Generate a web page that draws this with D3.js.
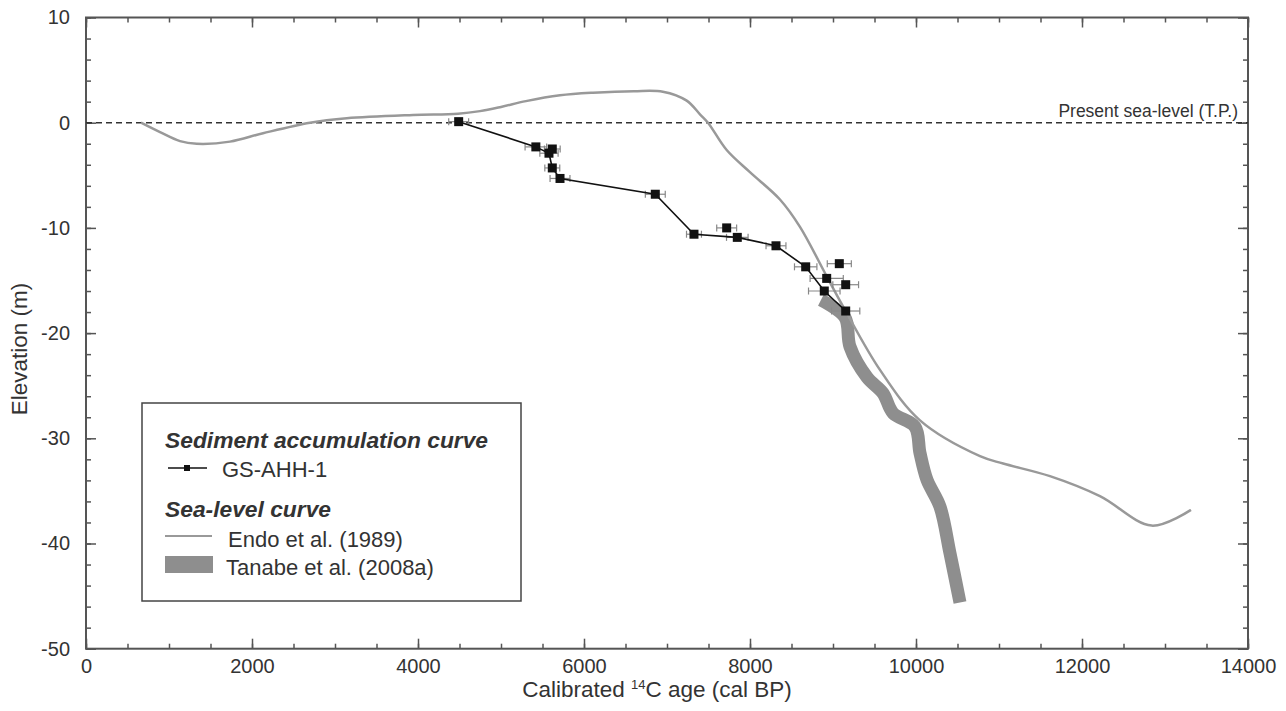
<!DOCTYPE html>
<html>
<head>
<meta charset="utf-8">
<script src="https://cdn.jsdelivr.net/npm/d3@7"></script>
<style>
  body { margin: 0; background: #fff; }
  text { font-family: "Liberation Sans", Arial, sans-serif; fill: #333; }
  .axis text { font-size: 20px; }
  .axis line { stroke: #555; stroke-width: 1.5; }
  .axis path { display: none; }
</style>
</head>
<body>
<div id="chart"></div>
<script>
var width = 1286, height = 711;

// GS-AHH-1 (connected points): age, elevation, age error
var gsAge = [4490, 5420, 5578, 5618, 5711, 6859, 7325, 7847, 8313, 8671, 8895, 9153];
var gsElev = [0.1, -2.3, -2.9, -4.3, -5.3, -6.8, -10.6, -10.9, -11.7, -13.7, -16.0, -17.9];
var gsErr = [120, 130, 110, 90, 120, 120, 90, 130, 120, 135, 190, 170];

// GS-AHH-1 samples off the curve
var outAge = [5618, 7719, 9076, 8924, 9153];
var outElev = [-2.5, -10.0, -13.4, -14.8, -15.4];
var outErr = [95, 120, 145, 200, 155];

// Endo et al. (1989)
var endoAge = [663, 892, 1133, 1334, 1735, 2133, 2699, 3141, 3940, 4482, 4747, 5000, 5300, 5711, 6108, 6600, 6950, 7237, 7397, 7494, 7719, 7999, 8361, 8602, 8924, 9145, 9566, 10048, 10771, 11050, 11614, 12216, 12839, 13313];
var endoElev = [0, -0.9, -1.75, -2.0, -1.8, -1.0, 0, 0.42, 0.73, 0.85, 1.1, 1.5, 2.05, 2.6, 2.85, 3.0, 2.95, 2.1, 0.8, 0, -2.6, -4.7, -7.3, -9.9, -14.6, -17.8, -23.5, -28.3, -31.7, -32.4, -33.6, -35.5, -38.3, -36.8];

// Tanabe et al. (2008a)
var tanAge = [8855, 9144, 9205, 9410, 9602, 9723, 9988, 10048, 10132, 10289, 10409, 10530];
var tanElev = [-16.85, -18.5, -21.3, -24.2, -25.7, -27.6, -28.9, -31.4, -33.95, -36.5, -40.9, -45.6];

var svg = d3.select("#chart").append("svg")
  .attr("width", width)
  .attr("height", height);

var x = d3.scaleLinear().domain([0, 14000]).range([86, 1248]);
var y = d3.scaleLinear().domain([-50, 10]).range([648.7, 17.5]);

var xMajor = d3.range(0, 14001, 2000), xMinor = d3.range(0, 14001, 500);
var yMajor = d3.range(-50, 11, 10), yMinor = d3.range(-50, 11, 2);

// axes with inward ticks on all four sides
function addAxis(axisFn, scale, tr, major, minor, labels) {
  svg.append("g").attr("class", "axis").attr("transform", tr)
    .call(axisFn(scale).tickValues(minor).tickSize(-5).tickFormat(""));
  var g = svg.append("g").attr("class", "axis").attr("transform", tr)
    .call(axisFn(scale).tickValues(major).tickSize(-10).tickPadding(labels ? 10 : 0)
      .tickFormat(labels ? function(d) { return String(d); } : ""));
  return g;
}
addAxis(d3.axisBottom, x, "translate(0,648.7)", xMajor, xMinor, true);
addAxis(d3.axisTop, x, "translate(0,17.5)", xMajor, xMinor, false);
var yl = addAxis(d3.axisLeft, y, "translate(86,0)", yMajor, yMinor, true);
yl.selectAll(".tick text").attr("x", -16);
addAxis(d3.axisRight, y, "translate(1248,0)", yMajor, yMinor, false);

svg.append("rect")
  .attr("x", x(0)).attr("y", y(10))
  .attr("width", x(14000) - x(0)).attr("height", y(-50) - y(10))
  .attr("fill", "none").attr("stroke", "#555").attr("stroke-width", 2);

// present sea-level
svg.append("line")
  .attr("x1", x(0)).attr("x2", x(14000))
  .attr("y1", y(0)).attr("y2", y(0))
  .attr("stroke", "#333").attr("stroke-width", 1.5)
  .attr("stroke-dasharray", "6,4");

svg.append("text")
  .attr("x", 1238).attr("y", 116.5)
  .attr("text-anchor", "end")
  .style("font-size", "17.5px")
  .text("Present sea-level (T.P.)");

// sea-level curves
var endo = endoAge.map(function(d, i) { return [d, endoElev[i]]; });
var tan = tanAge.map(function(d, i) { return [d, tanElev[i]]; });

var line = d3.line()
  .x(function(d) { return x(d[0]); })
  .y(function(d) { return y(d[1]); })
  .curve(d3.curveCatmullRom.alpha(0.5));

svg.append("path")
  .attr("d", line(tan))
  .attr("fill", "none")
  .attr("stroke", "#8e8e8e")
  .attr("stroke-width", 13)
  .attr("stroke-linejoin", "round");

svg.append("path")
  .attr("d", line(endo))
  .attr("fill", "none")
  .attr("stroke", "#999")
  .attr("stroke-width", 2.5);

// GS-AHH-1
var gs = gsAge.map(function(d, i) { return { age: d, elev: gsElev[i], err: gsErr[i] }; });
var out = outAge.map(function(d, i) { return { age: d, elev: outElev[i], err: outErr[i] }; });
var all = gs.concat(out);

var bars = svg.append("g").attr("stroke", "#888").attr("stroke-width", 1.2)
  .selectAll("g").data(all).enter().append("g");
bars.append("line")
  .attr("x1", function(d) { return x(d.age - d.err); })
  .attr("x2", function(d) { return x(d.age + d.err); })
  .attr("y1", function(d) { return y(d.elev); })
  .attr("y2", function(d) { return y(d.elev); });
bars.selectAll(".cap").data(function(d) { return [[d.age - d.err, d.elev], [d.age + d.err, d.elev]]; })
  .enter().append("line")
  .attr("x1", function(d) { return x(d[0]); })
  .attr("x2", function(d) { return x(d[0]); })
  .attr("y1", function(d) { return y(d[1]) - 3.5; })
  .attr("y2", function(d) { return y(d[1]) + 3.5; });

svg.append("path")
  .attr("d", d3.line()
    .x(function(d) { return x(d.age); })
    .y(function(d) { return y(d.elev); })(gs))
  .attr("fill", "none")
  .attr("stroke", "#111")
  .attr("stroke-width", 1.6);

svg.selectAll(".pt").data(all).enter().append("rect")
  .attr("class", "pt")
  .attr("x", function(d) { return x(d.age) - 4.5; })
  .attr("y", function(d) { return y(d.elev) - 4.5; })
  .attr("width", 9).attr("height", 9)
  .attr("fill", "#111");

// legend
var lg = svg.append("g");
lg.append("rect")
  .attr("x", 142).attr("y", 403).attr("width", 379).attr("height", 198)
  .attr("fill", "#fff").attr("stroke", "#444").attr("stroke-width", 1.5);
lg.append("text").attr("x", 165).attr("y", 448)
  .style("font-size", "22.8px").style("font-weight", "bold").style("font-style", "italic")
  .attr("fill", "#222").text("Sediment accumulation curve");
lg.append("line").attr("x1", 168).attr("x2", 207).attr("y1", 468).attr("y2", 468)
  .attr("stroke", "#111").attr("stroke-width", 1.5);
lg.append("rect").attr("x", 184).attr("y", 465).attr("width", 6).attr("height", 6).attr("fill", "#111");
lg.append("text").attr("x", 222).attr("y", 477).style("font-size", "22px").text("GS-AHH-1");
lg.append("text").attr("x", 165).attr("y", 517)
  .style("font-size", "22.8px").style("font-weight", "bold").style("font-style", "italic")
  .attr("fill", "#222").text("Sea-level curve");
lg.append("line").attr("x1", 165).attr("x2", 212).attr("y1", 536).attr("y2", 536)
  .attr("stroke", "#999").attr("stroke-width", 2);
lg.append("text").attr("x", 228).attr("y", 547).style("font-size", "22px").text("Endo et al. (1989)");
lg.append("rect").attr("x", 165).attr("y", 556).attr("width", 48).attr("height", 17).attr("fill", "#8e8e8e");
lg.append("text").attr("x", 226).attr("y", 575).style("font-size", "22px").text("Tanabe et al. (2008a)");

// axis titles
svg.append("text")
  .attr("transform", "translate(27,349) rotate(-90)")
  .attr("text-anchor", "middle")
  .style("font-size", "22.5px")
  .text("Elevation (m)");

var xt = svg.append("text")
  .attr("x", 657).attr("y", 697)
  .attr("text-anchor", "middle")
  .style("font-size", "22.5px");
xt.append("tspan").text("Calibrated ");
xt.append("tspan").attr("dy", -8).style("font-size", "13px").text("14");
xt.append("tspan").attr("dy", 8).text("C age (cal BP)");
</script>
</body>
</html>
